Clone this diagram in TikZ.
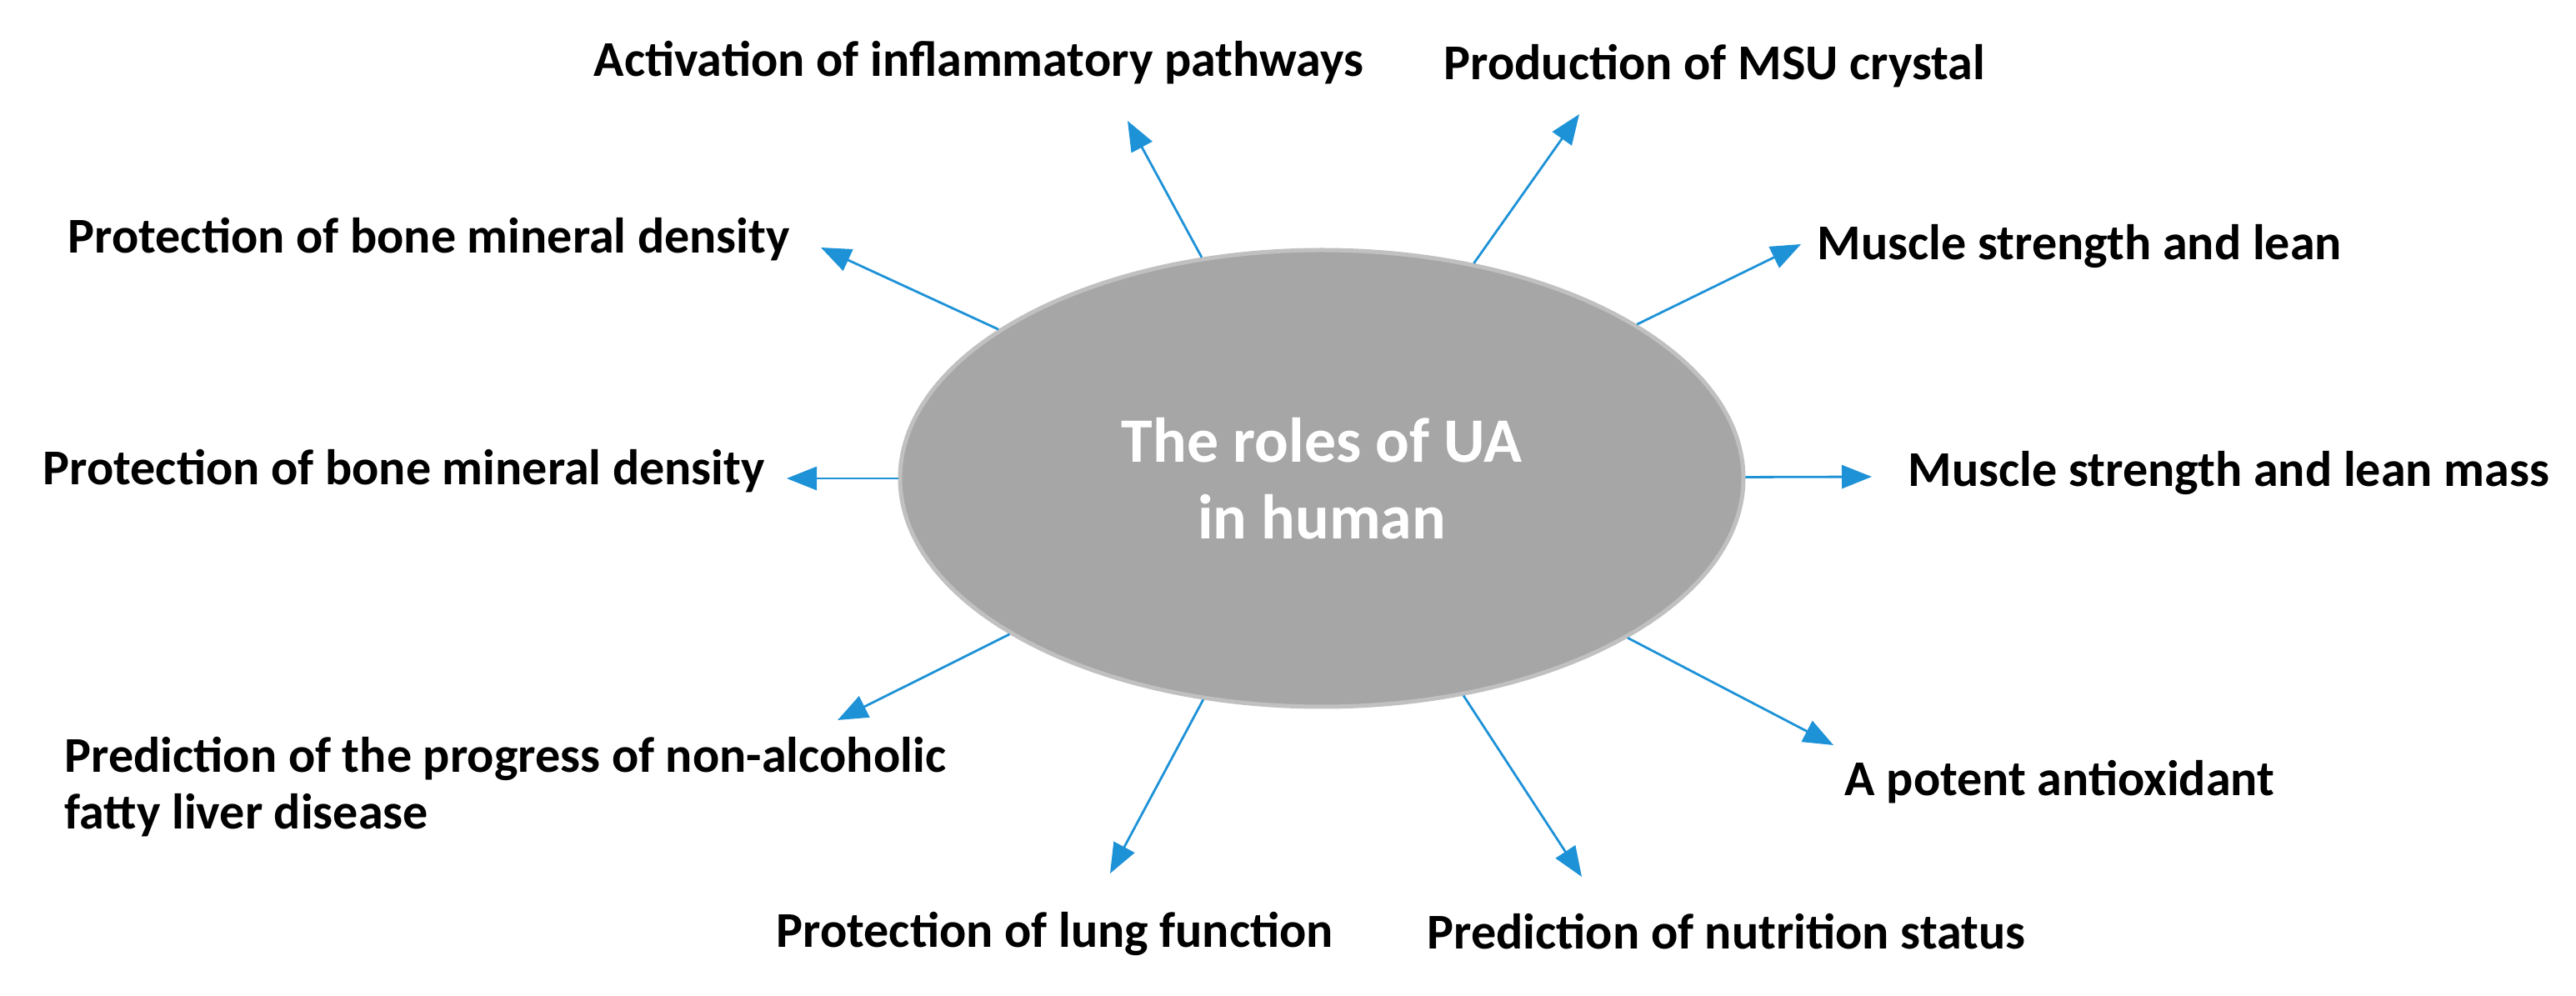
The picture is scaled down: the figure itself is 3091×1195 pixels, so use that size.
\documentclass[tikz,border=0pt]{standalone}
\usepackage{fontspec}
\setmainfont{Carlito}
\usetikzlibrary{arrows.meta,shapes.geometric}
\definecolor{arrblue}{RGB}{30,146,215}
\definecolor{hubgray}{RGB}{166,166,166}
\definecolor{hubrim}{RGB}{192,192,192}

\begin{document}
\begin{tikzpicture}[x=0.1mm, y=-0.1mm,
  hub/.style={ellipse, fill=hubgray, draw=hubrim, line width=0.5mm,
              minimum width=101.2mm, minimum height=54.8mm, inner sep=0pt,
              align=center, text=white, font=\fontsize{21.6}{26.2}\selectfont\bfseries},
  lbl/.style={anchor=base west, inner sep=0pt, align=left,
              font=\fontsize{17.1}{19.4}\selectfont\bfseries},
  arr/.style={-{Triangle[length=3.6mm, width=2.8mm]}, draw=arrblue, fill=arrblue, line width=0.28mm}
]
\useasboundingbox (0,0) rectangle (3091,1195);
\node[hub] (ua) at (1586,574) {The roles of UA\\in human};

% labels
\node[lbl] (l1) at (712,92) {Activation of inflammatory pathways};
\node[lbl] (l2) at (1732,96) {Production of MSU crystal};
\node[lbl] (l3) at (81,304) {Protection of bone mineral density};
\node[lbl] (l4) at (2180,312) {Muscle strength and lean};
\node[lbl] (l5) at (51,582) {Protection of bone mineral density};
\node[lbl] (l6) at (2289,584) {Muscle strength and lean mass};
\node[lbl] (l7) at (77,995) {Prediction of the progress of non-alcoholic\\fatty liver disease};
\node[lbl] (l8) at (931,1137) {Protection of lung function};
\node[lbl] (l9) at (1712,1139) {Prediction of nutrition status};
\node[lbl] (l10) at (2213,955) {A potent antioxidant};

% arrow tips
\coordinate (t1) at (1353,145);
\coordinate (t2) at (1895,137);
\coordinate (t3) at (985,297);
\coordinate (t4) at (2161,293);
\coordinate (t5) at (944,574);
\coordinate (t6) at (2246,572);
\coordinate (t7) at (1005,864);
\coordinate (t8) at (1332,1048);
\coordinate (t9) at (1898,1052);
\coordinate (t10) at (2200,894);

\draw[arr] (ua)--(t1); \draw[arr] (ua)--(t2); \draw[arr] (ua)--(t3);
\draw[arr] (ua)--(t4); \draw[arr] (ua)--(t5); \draw[arr] (ua)--(t6);
\draw[arr] (ua)--(t7); \draw[arr] (ua)--(t8); \draw[arr] (ua)--(t9);
\draw[arr] (ua)--(t10);
\end{tikzpicture}
\end{document}
